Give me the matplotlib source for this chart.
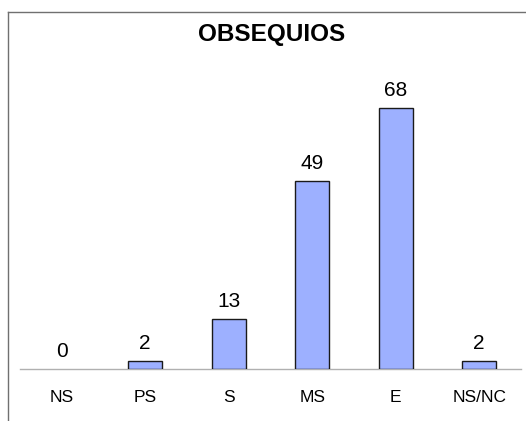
import matplotlib.pyplot as plt
from matplotlib.lines import Line2D

categories = ["NS", "PS", "S", "MS", "E", "NS/NC"]
values = [0, 2, 13, 49, 68, 2]
title = "OBSEQUIOS"

plt.rcParams["font.family"] = ["Liberation Sans", "DejaVu Sans"]

fig = plt.figure(figsize=(5.26, 4.21), dpi=100)
W, H = 526, 421
# plot area in pixels: x 20..521, baseline y=369, top y=40
ax = fig.add_axes([20 / W, (H - 369) / H, 501 / W, 329 / H])

x = range(len(categories))
edges = ["none" if v == 0 else "#1a1a1a" for v in values]
ax.bar(x, values, width=0.41, color="#9DB0FF", edgecolor=edges, linewidth=1, zorder=3)
ax.set_xlim(-0.5, len(categories) - 0.5)
ax.set_ylim(0, 329 / 3.84)

for xi, v in zip(x, values):
    ax.annotate(str(v), (xi, v), xytext=(0, 6), textcoords="offset points",
                ha="center", va="bottom", fontsize=15)

ax.set_xticks(list(x))
ax.set_xticklabels(categories, fontsize=12.5)
ax.tick_params(axis="x", length=0, pad=15)
ax.set_yticks([])
for s in ["top", "right", "left"]:
    ax.spines[s].set_visible(False)
ax.spines["bottom"].set_color("#b0b0b0")
ax.spines["bottom"].set_linewidth(1)

fig.text(272 / W, 1 - 35 / H, title, ha="center", va="center", fontsize=17.5, fontweight="bold")

# outer frame: only top and left edges show
fig.add_artist(Line2D([8 / W, 1], [1 - 12 / H, 1 - 12 / H], transform=fig.transFigure, color="#707070", lw=1))
fig.add_artist(Line2D([8 / W, 8 / W], [1 - 12 / H, 0], transform=fig.transFigure, color="#707070", lw=1))

fig.savefig("out.png", dpi=100)
plt.close(fig)
